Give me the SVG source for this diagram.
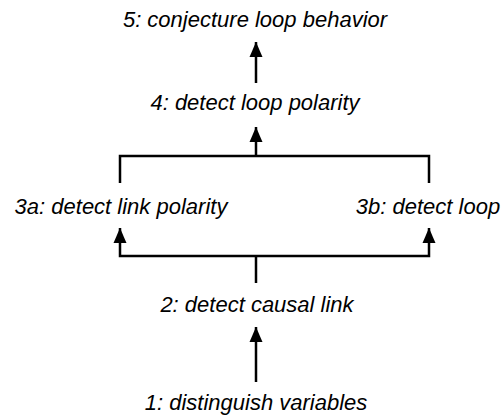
<svg xmlns="http://www.w3.org/2000/svg" width="504" height="418" viewBox="0 0 504 418">
  <style>
    .label { font-family: "Liberation Sans", Arial, Helvetica, sans-serif; font-style: italic; font-size: 22px; fill: #000; text-anchor: middle; }
    .wire { fill: none; stroke: #000; stroke-width: 2.5; stroke-linecap: butt; stroke-linejoin: miter; }
  </style>
  <defs>
    <marker id="head" markerUnits="userSpaceOnUse" viewBox="0 0 16 16" markerWidth="16" markerHeight="16" refX="15" refY="8" orient="auto">
      <path d="M0,1.5 L15,8 L0,14.5 Z" fill="#000"/>
    </marker>
  </defs>

  <rect width="504" height="418" fill="#fff"/>

  <g id="connectors">
    <!-- 4 -> 5 -->
    <path class="wire" d="M256,83 L256,42" marker-end="url(#head)"/>
    <!-- 3a / 3b join into 4 -->
    <path class="wire" d="M120,183 L120,156 L429,156 L429,183"/>
    <path class="wire" d="M256,156 L256,127" marker-end="url(#head)"/>
    <!-- 2 fans out to 3a / 3b -->
    <path class="wire" d="M256,283 L256,256"/>
    <path class="wire" d="M256,256 L120,256 L120,228" marker-end="url(#head)"/>
    <path class="wire" d="M256,256 L429,256 L429,228" marker-end="url(#head)"/>
    <!-- 1 -> 2 -->
    <path class="wire" d="M256,382 L256,327" marker-end="url(#head)"/>
  </g>

  <g id="node-5"><text class="label" x="255" y="27">5: conjecture loop behavior</text></g>
  <g id="node-4"><text class="label" x="255" y="110">4: detect loop polarity</text></g>
  <g id="node-3a"><text class="label" x="121" y="214">3a: detect link polarity</text></g>
  <g id="node-3b"><text class="label" x="428" y="214">3b: detect loop</text></g>
  <g id="node-2"><text class="label" x="257" y="312">2: detect causal link</text></g>
  <g id="node-1"><text class="label" x="256" y="410">1: distinguish variables</text></g>
</svg>
